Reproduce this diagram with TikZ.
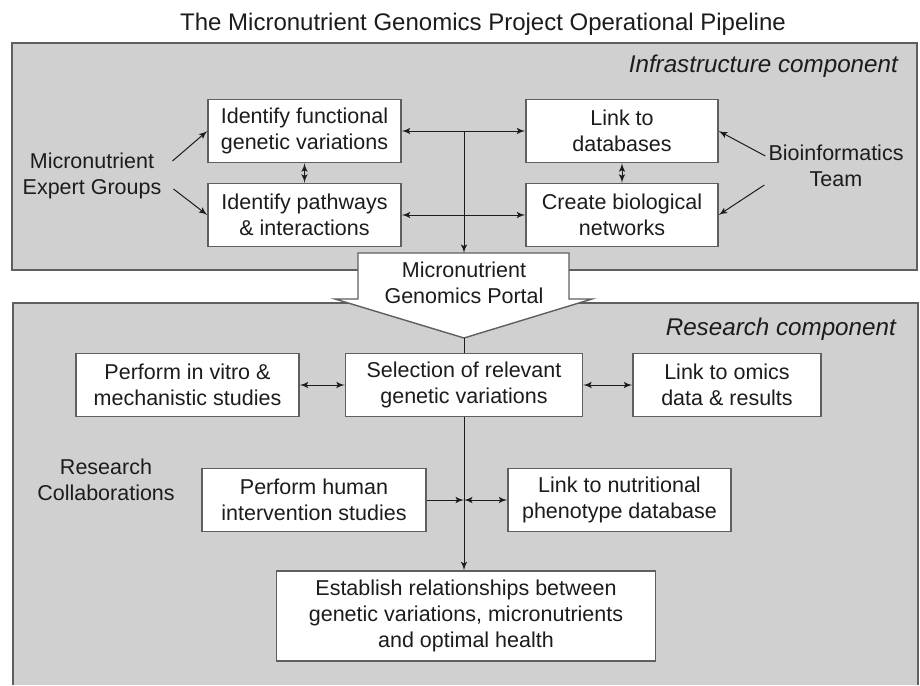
\documentclass[tikz,border=0pt]{standalone}
\usepackage{fontspec}
\setmainfont{Liberation Sans}
\usetikzlibrary{shapes,arrows,positioning}
\definecolor{panelgrey}{RGB}{208,208,208}
\definecolor{edgegrey}{RGB}{95,95,95}
\definecolor{inkgrey}{RGB}{28,28,28}
\newcommand{\boxfont}{\fontsize{10.75}{13}\selectfont}
\newcommand{\ttlfont}{\fontsize{12}{14}\selectfont}
\newcommand{\itlfont}{\fontsize{12.1}{14}\selectfont\itshape}
\tikzstyle{block} = [draw=edgegrey, line width=0.7pt, fill=white, rectangle, align=center, minimum height=31.5pt, inner sep=2pt, text=inkgrey, font=\boxfont]
\tikzstyle{textonly} = [align=center, text=inkgrey, font=\boxfont]
\tikzstyle{panel} = [fill=panelgrey]
\tikzstyle{frame} = [draw=edgegrey, line width=0.9pt]

\begin{document}
\begin{tikzpicture}[x=0.5pt, y=-0.5pt, >=latex', inkgrey, line width=0.5pt]
    \useasboundingbox[fill=white] (0,0) rectangle (920,685);
    % Panels
    \fill[panel] (12,43) rectangle (917,270);
    \draw[frame] (12,43) rectangle (917,270);
    \fill[panel] (13,303) rectangle (918,685);
    \draw[frame] (13,685) |- (918,303) -- (918,685);
    \node[anchor=base, font=\ttlfont] (title) at (483,30) {The Micronutrient Genomics Project Operational Pipeline};
    \node[anchor=base east, font=\itlfont] (infra) at (905,72) {Infrastructure component};
    \node[anchor=base east, font=\itlfont] (research) at (903,335) {Research component};
    % Infrastructure nodes
    \node[block, minimum width=96.5pt] (idfun) at (304.5,131) {Identify functional\\genetic variations};
    \node[block, minimum width=96.5pt] (idpath) at (304.5,215) {Identify pathways\\\& interactions};
    \node[block, minimum width=96pt] (linkdb) at (622,131) {Link to\\databases};
    \node[block, minimum width=96pt] (bionet) at (622,215) {Create biological\\networks};
    \node[textonly] (experts) at (92,176) {Micronutrient\\Expert Groups};
    \node[textonly] (bioteam) at (836,166) {Bioinformatics\\Team};
    \coordinate (split) at (464,131);
    % Portal
    \coordinate (portaltop) at (464,253);
    \coordinate (portaltip) at (464,338);
    \draw[draw=edgegrey, fill=white, line width=0.7pt] (358,253) -- (569,253) -- (569,299) -- (592,299)
        -- (portaltip) -- (335,299) -- (358,299) -- cycle;
    \node[textonly] (portal) at (464,283) {Micronutrient\\Genomics Portal};
    % Research nodes
    \node[block, minimum width=111.5pt] (invitro) at (187.5,385) {Perform in vitro \&\\mechanistic studies};
    \node[block, minimum width=118.5pt] (select) at (464,385) {Selection of relevant\\genetic variations};
    \node[block, minimum width=94pt] (omics) at (727,385) {Link to omics\\data \& results};
    \node[textonly] (collab) at (106,480) {Research\\Collaborations};
    \node[block, minimum width=112pt] (human) at (314,500) {Perform human\\intervention studies};
    \node[block, minimum width=111.5pt] (nutri) at (619.5,500) {Link to nutritional\\phenotype database};
    \node[block, minimum width=189.5pt, minimum height=45pt] (establish) at (466,616) {Establish relationships between\\genetic variations, micronutrients\\and optimal health};
    \coordinate (hub) at (464,500);
    % Connect the nodes
    \draw[->] ([shift={(4,-15)}]experts.east) -- (idfun.west);
    \draw[->] ([shift={(5,13)}]experts.east) -- (idpath.west);
    \draw[->] ([shift={(4,-10)}]bioteam.west) -- (linkdb.east);
    \draw[->] ([shift={(3,19)}]bioteam.west) -- (bionet.east);
    \draw[<->] (idfun) -- (idpath);
    \draw[<->] (linkdb) -- (bionet);
    \draw[<->] (idfun) -- (linkdb);
    \draw[<->] (idpath) -- (bionet);
    \draw[->] (split) -- (portaltop);
    \draw (portaltip) -- (select.north);
    \draw[<->] (invitro) -- (select);
    \draw[<->] (select) -- (omics);
    \draw[->] (select.south) -- (select.south |- establish.north);
    \draw[->] (human) -- (hub);
    \draw[<->] (hub) -- (nutri);
\end{tikzpicture}
\end{document}
